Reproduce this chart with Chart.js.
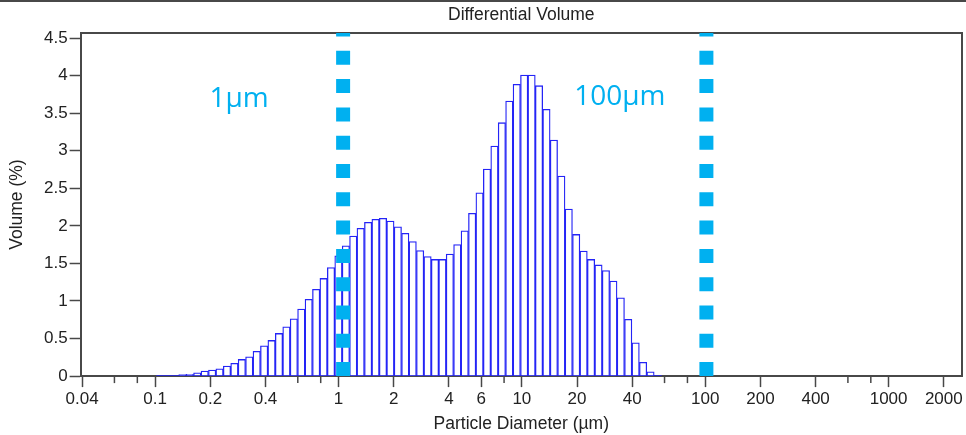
<!DOCTYPE html>
<html>
<head>
<meta charset="utf-8">
<script src="https://cdn.jsdelivr.net/npm/chart.js@4.4.1/dist/chart.umd.min.js"></script>
<style>
  html, body { margin: 0; padding: 0; background: #fff; }
  canvas { display: block; }
</style>
</head>
<body>
<canvas id="chart" width="966" height="435"></canvas>
<script>
// size channel edges (µm) of the bins that carry data, log spaced
const binEdges = [
    0.1016, 0.1116, 0.1225, 0.1345, 0.1476, 0.162, 0.1779, 0.1953, 0.2144, 0.2353,
    0.2583, 0.2836, 0.3113, 0.3418, 0.3752, 0.4119, 0.4522, 0.4964, 0.545, 0.5983,
    0.6568, 0.7211, 0.7916, 0.869, 0.954, 1.047, 1.15, 1.26, 1.385, 1.52,
    1.669, 1.832, 2.011, 2.208, 2.424, 2.661, 2.921, 3.207, 3.52, 3.865,
    4.243, 4.658, 5.113, 5.613, 6.162, 6.765, 7.427, 8.153, 8.951, 9.826,
    10.79, 11.84, 13.0, 14.27, 15.67, 17.2, 18.88, 20.73, 22.76, 24.98,
    27.43, 30.11, 33.06, 36.29, 39.84, 43.74, 48.02, 52.71, 57.87
];

// differential volume (%) per bin
const volume = [
    0, 0, 0,
    0.02, 0.025, 0.045, 0.066, 0.08, 0.098, 0.133, 0.169, 0.222, 0.257,
    0.329, 0.404, 0.475, 0.568, 0.657, 0.763, 0.892, 1.021, 1.154, 1.30,
    1.445, 1.60, 1.735, 1.864, 1.966, 2.046, 2.086, 2.10, 2.064, 1.988,
    1.90, 1.79, 1.67, 1.59, 1.553, 1.553, 1.625, 1.75, 1.935, 2.166,
    2.44, 2.756, 3.063, 3.373, 3.66, 3.884, 4.008, 4.008, 3.866, 3.55,
    3.142, 2.663, 2.224, 1.886, 1.664, 1.553, 1.48, 1.405, 1.265, 1.043,
    0.755, 0.444, 0.184, 0.058, 0
];

const xTickValues = [0.04, 0.1, 0.2, 0.4, 1, 2, 4, 6, 10, 20, 40, 100, 200, 400, 1000, 2000];
const xTickLabels = ['0.04', '0.1', '0.2', '0.4', '1', '2', '4', '6', '10', '20', '40', '100', '200', '400', '1000', '2000'];
const xMinorTicks = [0.06, 0.08, 0.6, 0.8, 8, 60, 80, 600, 800];
const yTickValues = [0, 0.5, 1, 1.5, 2, 2.5, 3, 3.5, 4, 4.5];
const yTickLabels = ['0', '0.5', '1', '1.5', '2', '2.5', '3', '3.5', '4', '4.5'];

// hand drawn size markers
const markerSizes = [1.06, 101.5];
const markerLabels = ['1µm', '100µm'];

const axisGrey = '#484848';
const textDark = '#222';
const markerBlue = '#00b0f0';
const barBlue = '#2424f6';
const yTop = 4.567;

const bars = volume.map((v, i) => ({ x: Math.sqrt(binEdges[i] * binEdges[i + 1]), y: v }));
const baseline = [
    { x: binEdges[0], y: 0 },
    { x: binEdges[binEdges.length - 1], y: 0 }
];

const markerSets = markerSizes.map(s => ({
    type: 'line',
    data: [{ x: s, y: 0 }, { x: s, y: yTop }],
    borderColor: markerBlue,
    borderWidth: 14,
    borderDash: [14, 14.3],
    borderCapStyle: 'butt',
    pointRadius: 0,
    tension: 0,
    order: 0
}));

const decorations = {
    id: 'decorations',
    beforeDatasetsDraw(chart) {
        const { ctx, chartArea: a, scales: { x } } = chart;
        ctx.save();
        ctx.fillStyle = axisGrey;
        ctx.fillRect(0, 0, chart.width, 2);

        ctx.strokeStyle = axisGrey;
        ctx.lineWidth = 2;
        ctx.beginPath();
        ctx.moveTo(a.left, a.top);
        ctx.lineTo(a.right, a.top);
        ctx.lineTo(a.right, a.bottom);
        ctx.stroke();

        ctx.lineWidth = 1.5;
        xMinorTicks.forEach(v => {
            const px = x.getPixelForValue(v);
            ctx.beginPath();
            ctx.moveTo(px, a.bottom);
            ctx.lineTo(px, a.bottom + 7);
            ctx.stroke();
        });

        ctx.fillStyle = textDark;
        ctx.font = '17.5px "Liberation Sans", Arial, sans-serif';
        ctx.textAlign = 'center';
        ctx.textBaseline = 'middle';
        ctx.fillText('Differential Volume', (a.left + a.right) / 2, 15);
        ctx.restore();
    },
    afterDraw(chart) {
        const { ctx, scales: { x, y } } = chart;
        const spots = [[0.198, 3.58], [19.3, 3.61]];
        ctx.save();
        ctx.fillStyle = markerBlue;
        ctx.font = '28px "Open Sans", sans-serif';
        ctx.textAlign = 'left';
        ctx.textBaseline = 'alphabetic';
        markerLabels.forEach((t, i) => {
            ctx.fillText(t, x.getPixelForValue(spots[i][0]), y.getPixelForValue(spots[i][1]));
        });
        ctx.restore();
    }
};

Chart.defaults.font.family = '"Liberation Sans", Arial, sans-serif';
Chart.defaults.color = textDark;

new Chart(document.getElementById('chart'), {
    type: 'bar',
    data: {
        datasets: [
            ...markerSets,
            {
                type: 'line',
                data: baseline,
                borderColor: barBlue,
                borderWidth: 1.5,
                pointRadius: 0,
                order: 1
            },
            {
                data: bars,
                backgroundColor: '#ffffff',
                borderColor: barBlue,
                borderWidth: 1.3,
                barPercentage: 1,
                categoryPercentage: 1,
                grouped: false,
                order: 2
            }
        ]
    },
    options: {
        responsive: false,
        animation: false,
        devicePixelRatio: 1,
        layout: { padding: { top: 33, right: 4, bottom: 0, left: 0 } },
        plugins: {
            legend: { display: false },
            tooltip: { enabled: false },
            title: { display: false }
        },
        scales: {
            x: {
                type: 'logarithmic',
                min: 0.03925,
                max: 2514,
                offset: false,
                afterBuildTicks: s => { s.ticks = xTickValues.map(v => ({ value: v })); },
                ticks: {
                    autoSkip: false,
                    maxRotation: 0,
                    padding: 2,
                    color: textDark,
                    font: { size: 17 },
                    callback: (v, i) => xTickLabels[i]
                },
                grid: { drawOnChartArea: false, offset: false, tickLength: 11, tickColor: axisGrey, tickWidth: 1.5 },
                border: { color: axisGrey, width: 2 },
                title: {
                    display: true,
                    text: 'Particle Diameter (µm)',
                    color: textDark,
                    font: { size: 17.5 },
                    padding: { top: 2, bottom: 0.5 }
                }
            },
            y: {
                type: 'linear',
                min: 0,
                max: yTop,
                afterBuildTicks: s => { s.ticks = yTickValues.map(v => ({ value: v })); },
                ticks: {
                    padding: 2,
                    color: textDark,
                    font: { size: 17 },
                    callback: (v, i) => yTickLabels[i]
                },
                grid: { drawOnChartArea: false, tickLength: 11, tickColor: axisGrey, tickWidth: 1.5 },
                border: { color: axisGrey, width: 2 },
                title: {
                    display: true,
                    text: 'Volume (%)',
                    color: textDark,
                    font: { size: 17.5 },
                    padding: { top: 7, bottom: 14 }
                }
            }
        }
    },
    plugins: [decorations]
});
</script>
</body>
</html>
